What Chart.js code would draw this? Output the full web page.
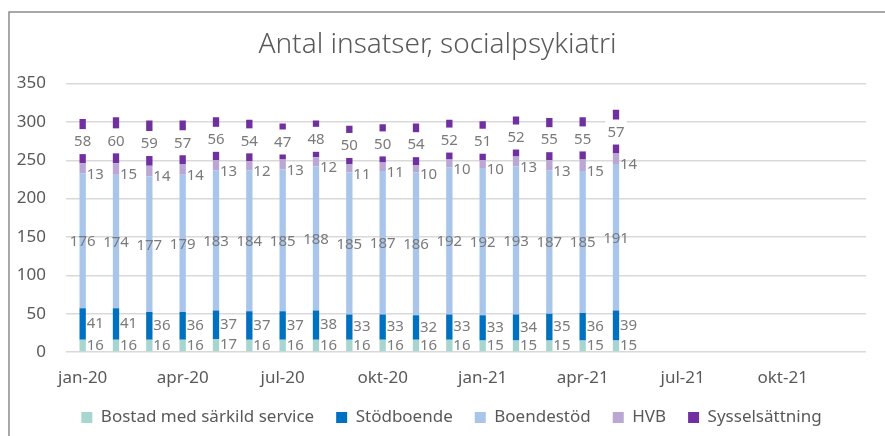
<!DOCTYPE html>
<html>
<head>
<meta charset="utf-8">
<script src="https://cdn.jsdelivr.net/npm/chart.js@4"></script>
<style>
    html, body { margin: 0; padding: 0; background: #ffffff; }
    #wrap { width: 885px; height: 436px; position: relative; }
</style>
</head>
<body>
<div id="wrap"><canvas id="chart"></canvas></div>
<script>
"use strict";

// Months on the x axis (only every third one gets a tick label)
const months = [
    'jan-20', 'feb-20', 'mar-20', 'apr-20', 'maj-20', 'jun-20',
    'jul-20', 'aug-20', 'sep-20', 'okt-20', 'nov-20', 'dec-20',
    'jan-21', 'feb-21', 'mar-21', 'apr-21', 'maj-21', 'jun-21',
    'jul-21', 'aug-21', 'sep-21', 'okt-21', 'nov-21', 'dec-21'
];

// Series values, jan-20 .. maj-21
const bostad = [16, 16, 16, 16, 17, 16, 16, 16, 16, 16, 16, 16, 15, 15, 15, 15, 15];
const stodboende = [41, 41, 36, 36, 37, 37, 37, 38, 33, 33, 32, 33, 33, 34, 35, 36, 39];
const boendestod = [176, 174, 177, 179, 183, 184, 185, 188, 185, 187, 186, 192, 192, 193, 187, 185, 191];
const hvb = [13, 15, 14, 14, 13, 12, 13, 12, 11, 11, 10, 10, 10, 13, 13, 15, 14];
const syssel = [58, 60, 59, 57, 56, 54, 47, 48, 50, 50, 54, 52, 51, 52, 55, 55, 57];

const yTicks = [0, 50, 100, 150, 200, 250, 300, 350];

const FONT = "'Noto Sans', sans-serif";
const GREY = '#595959';
const LABEL_GREY = '#7a7a7a';

// Frame around the chart (only top and left edges are inside the picture)
const framePlugin = {
    id: 'frame',
    beforeDraw(chart) {
        const ctx = chart.ctx;
        ctx.save();
        ctx.fillStyle = '#ffffff';
        ctx.fillRect(0, 0, chart.width, chart.height);
        ctx.strokeStyle = '#8c8c8c';
        ctx.lineWidth = 1.5;
        ctx.beginPath();
        ctx.moveTo(9, chart.height);
        ctx.lineTo(9, 12);
        ctx.lineTo(chart.width, 12);
        ctx.stroke();
        ctx.restore();
    }
};

// Legend sits a bit right of the canvas centre in the original
const legendShift = {
    id: 'legendShift',
    afterLayout(chart) {
        if (!chart.legend) return;
        chart.legend.left += 14;
        chart.legend.right += 14;
    }
};

// Data labels drawn next to / on the bars
const labelPlugin = {
    id: 'barLabels',
    afterDatasetsDraw(chart) {
        const ctx = chart.ctx;
        ctx.save();
        ctx.font = '15px ' + FONT;
        ctx.textBaseline = 'middle';
        chart.data.datasets.forEach((ds, di) => {
            const meta = chart.getDatasetMeta(di);
            meta.data.forEach((bar, i) => {
                const v = ds.data[i];
                if (v == null) return;
                const txt = String(v);
                const cy = (bar.y + bar.base) / 2;
                const mode = ds.labelMode;
                if (mode === 'box') {
                    // white label box hides the middle of the bar
                    const w = ctx.measureText(txt).width + 4;
                    ctx.fillStyle = '#ffffff';
                    ctx.fillRect(bar.x - w / 2, cy - 12, w, 25);
                    ctx.fillStyle = LABEL_GREY;
                    ctx.textAlign = 'center';
                    ctx.fillText(txt, bar.x, cy + 1);
                } else if (mode === 'center') {
                    ctx.fillStyle = LABEL_GREY;
                    ctx.textAlign = 'center';
                    ctx.fillText(txt, bar.x, cy + 1);
                } else {
                    ctx.fillStyle = LABEL_GREY;
                    ctx.textAlign = 'left';
                    ctx.fillText(txt, bar.x + 4, cy + (ds.labelDrop || 0));
                }
            });
        });
        ctx.restore();
    }
};

const ctx = document.getElementById('chart').getContext('2d');

new Chart(ctx, {
    type: 'bar',
    data: {
        labels: months,
        datasets: [
            { label: 'Bostad med särkild service', data: bostad, backgroundColor: '#a8d5cf', labelMode: 'right', labelDrop: 0 },
            { label: 'Stödboende', data: stodboende, backgroundColor: '#0070c0', labelMode: 'right', labelDrop: 0 },
            { label: 'Boendestöd', data: boendestod, backgroundColor: '#a9c5ea', labelMode: 'center' },
            { label: 'HVB', data: hvb, backgroundColor: '#bba7d4', labelMode: 'right', labelDrop: 6 },
            { label: 'Sysselsättning', data: syssel, backgroundColor: '#7030a0', labelMode: 'box' }
        ]
    },
    options: {
        responsive: true,
        maintainAspectRatio: false,
        animation: false,
        datasets: {
            bar: {
                categoryPercentage: 1,
                barPercentage: 0.19,
                borderWidth: 0
            }
        },
        layout: {
            padding: { left: 9, right: 19, top: 14, bottom: 0 }
        },
        plugins: {
            title: {
                display: true,
                text: 'Antal insatser, socialpsykiatri',
                color: GREY,
                font: { family: FONT, size: 28, weight: '300' },
                padding: { top: 14, bottom: 22 }
            },
            legend: {
                position: 'bottom',
                labels: {
                    color: GREY,
                    font: { family: FONT, size: 17 },
                    boxWidth: 11,
                    boxHeight: 11,
                    padding: 22
                }
            },
            tooltip: { enabled: false }
        },
        scales: {
            x: {
                stacked: true,
                grid: { display: false },
                border: { display: false },
                afterFit: scale => { scale.height = 35; },
                ticks: {
                    color: GREY,
                    font: { family: FONT, size: 17 },
                    autoSkip: false,
                    maxRotation: 0,
                    padding: 8,
                    callback: function(value, index) {
                        return index % 3 === 0 ? months[index] : '';
                    }
                }
            },
            y: {
                stacked: true,
                min: 0,
                max: 350,
                afterBuildTicks: scale => {
                    scale.ticks = yTicks.map(v => ({ value: v }));
                },
                afterFit: scale => { scale.width = 57; },
                grid: { color: '#d9d9d9', lineWidth: 1.5, drawTicks: false },
                border: { display: false },
                ticks: {
                    color: GREY,
                    font: { family: FONT, size: 17 },
                    padding: 20
                }
            }
        }
    },
    plugins: [framePlugin, legendShift, labelPlugin]
});
</script>
</body>
</html>
